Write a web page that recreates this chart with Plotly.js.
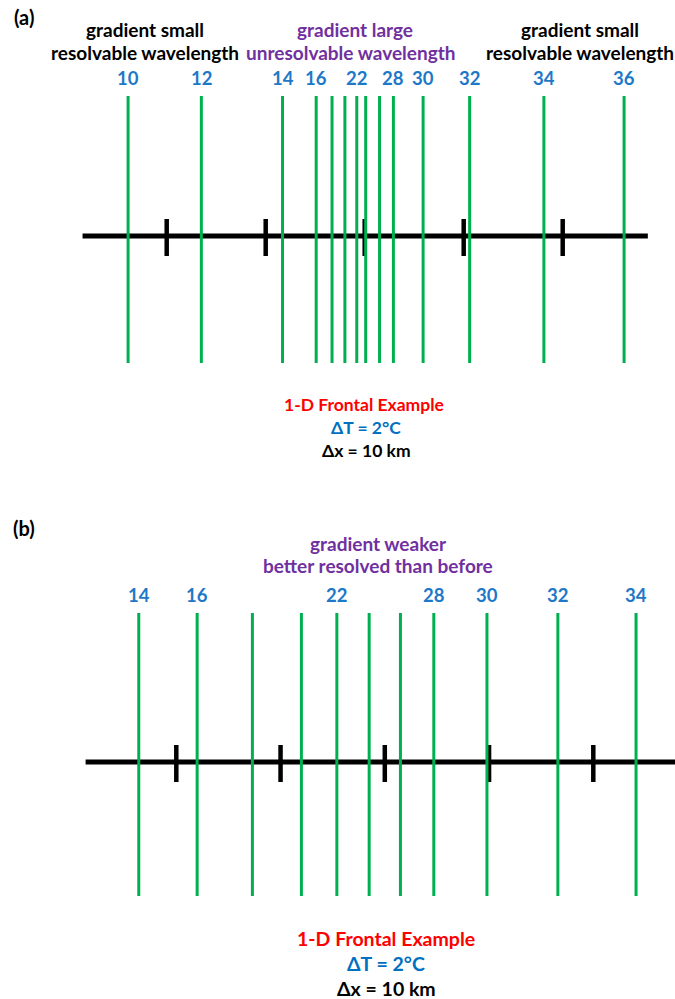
<!DOCTYPE html>
<html>
<head>
<meta charset="utf-8">
<script src="https://cdn.plot.ly/plotly-3.0.1.min.js"></script>
<style>html,body{margin:0;padding:0;background:#fff;}#chart{width:675px;height:999px;}</style>
</head>
<body>
<div id="chart"></div>
<script>
// ---------- data ----------
// isotherm temperatures (°C) and their positions (km) along the 1-D front
const tempsA = [10, 12, 14, 16, 18, 20, 22, 24, 26, 28, 30, 32, 34, 36];
const posA   = [6.1, 13.5, 21.7, 25.1, 26.7, 28.0, 29.2, 30.1, 31.5, 32.9, 35.9, 40.6, 48.1, 56.2];
const labelsA = [10, 12, 14, 16, 22, 28, 30, 32, 34, 36];

const tempsB = [14, 16, 18, 20, 22, 24, 26, 28, 30, 32, 34];
const posB   = [6.4, 12.0, 17.3, 22.0, 25.4, 28.5, 31.5, 34.7, 39.8, 46.6, 54.1];
const labelsB = [14, 16, 22, 28, 30, 32, 34];

// model grid points (Δx = 10 km)
const gridKm = [10, 20, 30, 40, 50];
const axisExtentA = [1.5, 58.6];
const axisExtentB = [1.3, 62];

// ---------- styling ----------
const GREEN = '#00B050', BLUE = '#1E78C8', PURPLE = '#7030A0', RED = '#FF0000';
const FONT = 'Lato, "Open Sans", sans-serif';
const W = 675, H = 999;
const lineTopA = 140, lineBotA = -127, lineTopB = 149, lineBotB = -134;
const tickUp = 17, tickDown = -20;

function segs(xs, y0, y1) {
  const x = [], y = [];
  xs.forEach(v => { x.push(v, v, null); y.push(y0, y1, null); });
  return {x, y};
}

function panelTraces(pos, ext, top, bot, xa, ya) {
  const g = segs(pos, bot, top);
  const t = segs(gridKm, tickDown, tickUp);
  return [
    {x: ext, y: [0, 0], xaxis: xa, yaxis: ya, mode: 'lines', line: {color: '#000', width: 5}, hoverinfo: 'skip'},
    {x: t.x, y: t.y, xaxis: xa, yaxis: ya, mode: 'lines', line: {color: '#000', width: 4.5}, hoverinfo: 'skip'},
    {x: g.x, y: g.y, xaxis: xa, yaxis: ya, mode: 'lines', line: {color: GREEN, width: 3}, hoverinfo: 'skip'}
  ];
}

const data = [
  ...panelTraces(posA, axisExtentA, lineTopA, lineBotA, 'x', 'y'),
  ...panelTraces(posB, axisExtentB, lineTopB, lineBotB, 'x2', 'y2')
];

function pa(px, py, text, color, size, extra) {
  return Object.assign({
    xref: 'paper', yref: 'paper', x: px / W, y: 1 - py / H,
    xanchor: 'center', yanchor: 'middle', showarrow: false, text: text,
    font: {family: FONT, size: size, color: color, weight: 700}
  }, extra || {});
}

const ann = [];
labelsA.forEach(t => ann.push({
  xref: 'x', yref: 'y', x: posA[tempsA.indexOf(t)], y: 158, text: String(t),
  showarrow: false, xanchor: 'center', yanchor: 'middle',
  font: {family: FONT, size: 18.5, color: BLUE, weight: 700}
}));
labelsB.forEach(t => ann.push({
  xref: 'x2', yref: 'y2', x: posB[tempsB.indexOf(t)], y: 167, text: String(t),
  showarrow: false, xanchor: 'center', yanchor: 'middle',
  font: {family: FONT, size: 18.5, color: BLUE, weight: 700}
}));

// panel (a) text
ann.push(pa(24, 17, '(a)', '#000', 20));
ann.push(pa(145, 30, 'gradient small', '#000', 19));
ann.push(pa(145, 52, 'resolvable wavelength', '#000', 19));
ann.push(pa(355, 30, 'gradient large', PURPLE, 19));
ann.push(pa(351, 52, 'unresolvable wavelength', PURPLE, 19));
ann.push(pa(580, 30, 'gradient small', '#000', 19));
ann.push(pa(580, 52, 'resolvable wavelength', '#000', 19));
ann.push(pa(364, 404, '1-D Frontal Example', RED, 17.5));
ann.push(pa(366, 427, 'ΔT = 2°C', '#0070C0', 17.5));
ann.push(pa(366, 451, 'Δx = 10 km', '#000', 17.5));

// panel (b) text
ann.push(pa(24, 528, '(b)', '#000', 20));
ann.push(pa(378, 543, 'gradient weaker', PURPLE, 19));
ann.push(pa(378, 565, 'better resolved than before', PURPLE, 19));
ann.push(pa(386, 938, '1-D Frontal Example', RED, 19.5));
ann.push(pa(386, 963, 'ΔT = 2°C', '#0070C0', 19.5));
ann.push(pa(386, 988, 'Δx = 10 km', '#000', 19.5));

const axA = 10 - 166.7 / 9.9, axA2 = 10 + (W - 166.7) / 9.9;
const axB = 10 - 176.3 / 10.425, axB2 = 10 + (W - 176.3) / 10.425;
const hideAx = {visible: false, fixedrange: true, showgrid: false, zeroline: false};

const layout = {
  width: W, height: H,
  margin: {l: 0, r: 0, t: 0, b: 0},
  paper_bgcolor: '#fff', plot_bgcolor: '#fff',
  showlegend: false,
  xaxis: Object.assign({domain: [0, 1], range: [axA, axA2], anchor: 'y'}, hideAx),
  yaxis: Object.assign({domain: [0.5, 1], range: [-(H / 2 - 236), 236], anchor: 'x'}, hideAx),
  xaxis2: Object.assign({domain: [0, 1], range: [axB, axB2], anchor: 'y2'}, hideAx),
  yaxis2: Object.assign({domain: [0, 0.5], range: [-(H - 762), 762 - H / 2], anchor: 'x2'}, hideAx),
  annotations: ann
};

Plotly.newPlot('chart', data, layout, {staticPlot: true, displayModeBar: false});
</script>
</body>
</html>
